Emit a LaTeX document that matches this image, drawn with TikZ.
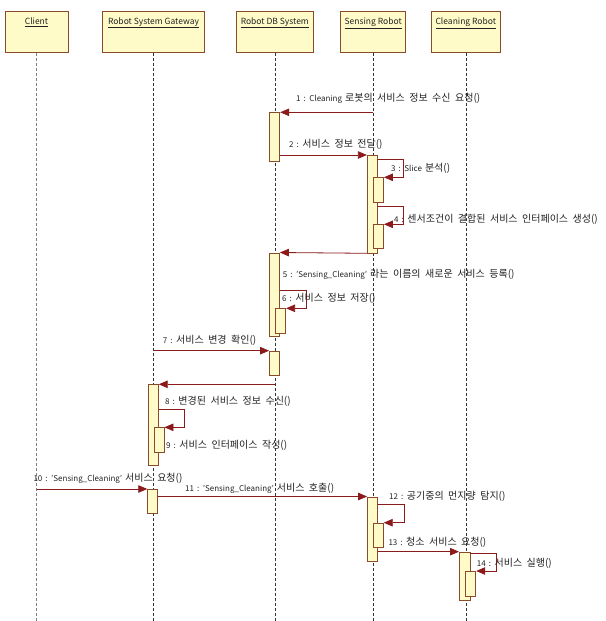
\documentclass[tikz,border=0pt]{standalone}
\usepackage{fontspec}
\setmainfont{Noto Sans CJK KR}
\usetikzlibrary{arrows.meta,calc}
\definecolor{boxfill}{HTML}{FFFBC8}
\definecolor{boxline}{HTML}{8A4B2A}
\definecolor{msgline}{HTML}{8B1A1A}
\definecolor{lifecol}{HTML}{333333}
\definecolor{txt}{HTML}{222222}
\newcommand\ko[1]{{\fontsize{10}{12}\selectfont\spaceskip=4.5pt\relax #1}}
\newcommand\lblfont{\fontsize{8}{10}\selectfont\spaceskip=3pt\relax}
\begin{document}
\begin{tikzpicture}[x=1pt,y=-1pt,
 head/.style={draw=boxline, fill=boxfill, line width=0.8pt, minimum height=41pt, inner sep=0pt},
 headtext/.style={anchor=north, font=\fontsize{8.5}{10}\selectfont, text=txt, inner sep=0pt},
 life/.style={draw=lifecol, line width=0.6pt, dash pattern=on 3pt off 2pt},
 act/.style={draw=boxline, fill=boxfill, line width=0.8pt, minimum width=10pt, inner sep=0pt, anchor=north},
 msg/.style={draw=msgline, line width=0.8pt, -{Triangle[length=9pt,width=7.5pt]}},
 lbl/.style={anchor=west, font=\lblfont, text=txt, inner sep=0pt}]
\useasboundingbox (0,0) rectangle (605,621);

% heads
\node[head, minimum width=63pt] (client) at (36.5,32.2) {};
\node[head, minimum width=101.5pt] (gw) at (153.5,32.2) {};
\node[head, minimum width=76.5pt] (db) at (274.8,32.2) {};
\node[head, minimum width=65pt] (sr) at (373.2,32.2) {};
\node[head, minimum width=68.7pt] (cr) at (465.8,32.2) {};
\node[headtext] (clientT) at ($(client.north)+(0,6)$) {\underline{Client}};
\node[headtext] (gwT) at ($(gw.north)+(0,6)$) {\underline{Robot System Gateway}};
\node[headtext] (dbT) at ($(db.north)+(0,6)$) {\underline{Robot DB System}};
\node[headtext] (srT) at ($(sr.north)+(0,6)$) {\underline{Sensing Robot}};
\node[headtext] (crT) at ($(cr.north)+(0,6)$) {\underline{Cleaning Robot}};

% lifelines
\path (client.south) ++(0,570) coordinate (clientE);
\path (gw.south) ++(0,570) coordinate (gwE);
\path (db.south) ++(0,570) coordinate (dbE);
\path (sr.south) ++(0,570) coordinate (srE);
\path (cr.south) ++(0,570) coordinate (crE);
\draw[life, draw=gray] (client.south) -- (clientE);
\draw[life] (gw.south) -- (gwE);
\draw[life] (db.south) -- (dbE);
\draw[life] (sr.south) -- (srE);
\draw[life] (cr.south) -- (crE);

% activations
\node[act, minimum height=48.4pt] (A1) at (274.8,112.3) {};
\node[act, minimum height=97.5pt] (S1) at (372.3,155) {};
\node[act, minimum height=24.4pt] (S1n3) at (378.5,177.3) {};
\node[act, minimum height=24pt] (S1n4) at (378.5,224.3) {};
\node[act, minimum height=83.2pt] (A2) at (274.5,252.5) {};
\node[act, minimum height=25pt] (A2n6) at (280.7,308.3) {};
\node[act, minimum height=24.3pt] (A3) at (274.5,350.7) {};
\node[act, minimum height=80.7pt] (G1) at (153.3,384.3) {};
\node[act, minimum height=24.4pt] (G1n9) at (159,427.3) {};
\node[act, minimum height=23.7pt] (G2) at (152.7,489) {};
\node[act, minimum height=64.2pt] (S2) at (372.5,496.5) {};
\node[act, minimum height=24.6pt] (S2n12) at (378.3,522.7) {};
\node[act, minimum height=48.3pt, minimum width=10.6pt] (C1) at (464.7,551.7) {};
\node[act, minimum height=25pt] (C1n14) at (470.8,571) {};

% messages
\draw[msg] (A1.north east -| sr) -- (A1.north east);
\draw[msg] (S1.north west -| A1.east) -- (S1.north west);
\draw[msg] ($(S1n3.north east -| S1.east)+(0,-18)$) -- ++(26,0) |- (S1n3.north east);
\draw[msg] ($(S1n4.north east -| S1.east)+(0,-18)$) -- ++(26,0) |- (S1n4.north east);
\draw[msg] (S1.south west) -- (A2.north east);
\draw[msg] ($(A2n6.north east -| A2.east)+(0,-18)$) -- ++(26,0) |- (A2n6.north east);
\draw[msg] (A3.north west -| gw) -- (A3.north west);
\draw[msg] (G1.north east -| db) -- (G1.north east);
\draw[msg] ($(G1n9.north east -| G1.east)+(0,-18)$) -- ++(26,0) |- (G1n9.north east);
\draw[msg] (G2.north west -| client) -- (G2.north west);
\draw[msg] (S2.north west -| G2.east) -- (S2.north west);
\draw[msg] ($(S2n12.north east -| S2.east)+(0,-18)$) -- ++(26,0) |- (S2n12.north east);
\draw[msg] (C1.north west -| S2.east) -- (C1.north west);
\draw[msg] ($(C1n14.north east -| C1.east)+(0,-18)$) -- ++(26,0) |- (C1n14.north east);

% labels
\node[lbl] (l1) at (296,98.3) {1 : Cleaning \ko{로봇의 서비스 정보 수신 요청()}};
\node[lbl] (l2) at (289,144) {2 : \ko{서비스 정보 전달()}};
\node[lbl] (l3) at (391,168.3) {3 : Slice \ko{분석()}};
\node[lbl] (l4) at (394,219.3) {4 : \ko{센서조건이 결합된 서비스 인터페이스 생성()}};
\node[lbl] (l5) at (282.7,274.3) {5 : 'Sensing\_Cleaning' \ko{라는 이름의 새로운 서비스 등록()}};
\node[lbl] (l6) at (282,298.3) {6 : \ko{서비스 정보 저장()}};
\node[lbl] (l7) at (162.7,340.7) {7 : \ko{서비스 변경 확인()}};
\node[lbl] (l8) at (165,401) {8 : \ko{변경된 서비스 정보 수신()}};
\node[lbl] (l9) at (166,445) {9 : \ko{서비스 인터페이스 작성()}};
\node[lbl] (l10) at (33.3,478.3) {10 : 'Sensing\_Cleaning' \ko{서비스 요청()}};
\node[lbl] (l11) at (185,488.3) {11 : 'Sensing\_Cleaning' \ko{서비스 호출()}};
\node[lbl] (l12) at (389,496) {12 : \ko{공기중의 먼지량 탐지()}};
\node[lbl] (l13) at (388.3,542.3) {13 : \ko{청소 서비스 요청()}};
\node[lbl] (l14) at (476.7,563.3) {14 : \ko{서비스 실행()}};
\end{tikzpicture}
\end{document}
